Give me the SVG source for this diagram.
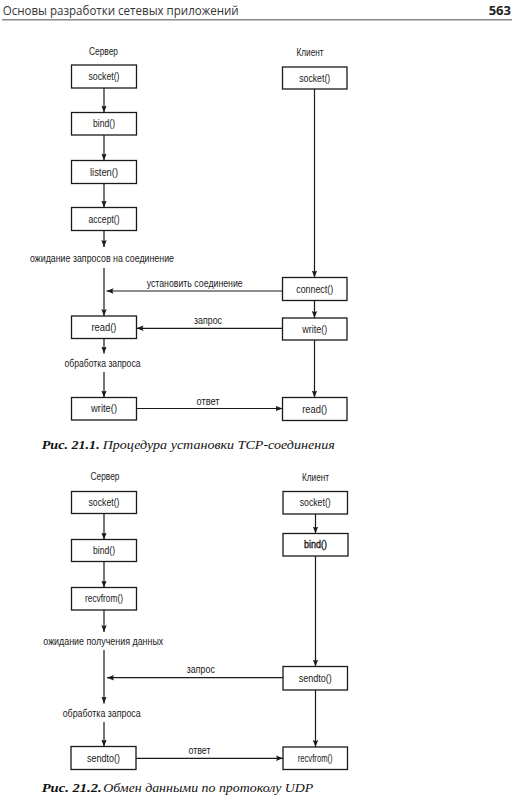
<svg xmlns="http://www.w3.org/2000/svg" width="525" height="801" viewBox="0 0 525 801">
<style>
.bg{fill:#fff}
.box{fill:#fff;stroke:#1a1a1a;stroke-width:1.3}
.t{font-family:"Liberation Sans",Arial,sans-serif;font-size:10px;fill:#1a1a1a;text-anchor:middle}
.c line{stroke:#1a1a1a;stroke-width:1.2;fill:none}
.arr{marker-end:url(#ah)}
.hdr{font-family:"Open Sans","Noto Sans",sans-serif;font-size:13px;fill:#333}
.pg{font-family:"Open Sans","Noto Sans",sans-serif;font-size:13px;font-weight:bold;fill:#222;text-anchor:end}
.capb{font-family:"Liberation Serif","Times New Roman",serif;font-size:12.5px;font-weight:bold;font-style:italic;fill:#111}
.capi{font-family:"Liberation Serif","Times New Roman",serif;font-size:12.5px;font-style:italic;fill:#111}
</style>
<defs>
<marker id="ah" markerUnits="userSpaceOnUse" markerWidth="8" markerHeight="6" refX="7" refY="3" orient="auto">
<path d="M0,0.3 L7,3 L0,5.7 L1.2,3 Z" fill="#1a1a1a"/>
</marker>
</defs>
<rect class="bg" x="0" y="0" width="525" height="801"/>

<g id="header">
<text class="hdr" x="2.7" y="15" textLength="236" lengthAdjust="spacingAndGlyphs">Основы разработки сетевых приложений</text>
<text class="pg" x="511" y="15">563</text>
<line x1="2" y1="19.8" x2="512" y2="19.8" stroke="#8a8a8a" stroke-width="1.5"/>
</g>

<!-- ===== Figure 21.1 ===== -->
<g id="fig1-labels">
<text class="t" x="103.5" y="54.5" textLength="29" lengthAdjust="spacingAndGlyphs">Сервер</text>
<text class="t" x="310" y="55.8" textLength="27" lengthAdjust="spacingAndGlyphs">Клиент</text>
<text class="t" x="102" y="261.8" textLength="144" lengthAdjust="spacingAndGlyphs">ожидание запросов на соединение</text>
<text class="t" x="194.7" y="286.8" textLength="96" lengthAdjust="spacingAndGlyphs">установить соединение</text>
<text class="t" x="208" y="324.2" textLength="28" lengthAdjust="spacingAndGlyphs">запрос</text>
<text class="t" x="102.5" y="366.8" textLength="76" lengthAdjust="spacingAndGlyphs">обработка запроса</text>
<text class="t" x="208" y="404.5" textLength="23" lengthAdjust="spacingAndGlyphs">ответ</text>
</g>

<g id="f1-s-socket"><rect class="box" x="71.5" y="65" width="65" height="23"/><text class="t" x="104" y="80" textLength="31" lengthAdjust="spacingAndGlyphs">socket()</text></g>
<g id="f1-s-bind"><rect class="box" x="71.5" y="112.5" width="65" height="22.5"/><text class="t" x="104" y="127.3" textLength="22" lengthAdjust="spacingAndGlyphs">bind()</text></g>
<g id="f1-s-listen"><rect class="box" x="71.5" y="160.5" width="65" height="23"/><text class="t" x="104" y="175.5" textLength="28" lengthAdjust="spacingAndGlyphs">listen()</text></g>
<g id="f1-s-accept"><rect class="box" x="71.5" y="207.5" width="65" height="23"/><text class="t" x="104" y="222.5" textLength="31" lengthAdjust="spacingAndGlyphs">accept()</text></g>
<g id="f1-s-read"><rect class="box" x="71.5" y="316" width="65" height="22.5"/><text class="t" x="104" y="330.8" textLength="25" lengthAdjust="spacingAndGlyphs">read()</text></g>
<g id="f1-s-write"><rect class="box" x="71.5" y="397.5" width="65" height="22.5"/><text class="t" x="104" y="412.3" textLength="26" lengthAdjust="spacingAndGlyphs">write()</text></g>

<g id="f1-c-socket"><rect class="box" x="282.5" y="67" width="64.5" height="22"/><text class="t" x="314.7" y="81.5" textLength="31" lengthAdjust="spacingAndGlyphs">socket()</text></g>
<g id="f1-c-connect"><rect class="box" x="282.5" y="277.5" width="64.5" height="23"/><text class="t" x="314.7" y="292.5" textLength="37" lengthAdjust="spacingAndGlyphs">connect()</text></g>
<g id="f1-c-write"><rect class="box" x="282.5" y="318" width="64.5" height="22"/><text class="t" x="314.7" y="332.5" textLength="25" lengthAdjust="spacingAndGlyphs">write()</text></g>
<g id="f1-c-read"><rect class="box" x="282.5" y="397.5" width="64.5" height="23"/><text class="t" x="314.7" y="412.5" textLength="25" lengthAdjust="spacingAndGlyphs">read()</text></g>

<g id="fig1-connectors" class="c">
<line class="arr" x1="104" y1="88" x2="104" y2="112.5"/>
<line class="arr" x1="104" y1="135" x2="104" y2="160.5"/>
<line class="arr" x1="104" y1="183.5" x2="104" y2="207.5"/>
<line class="arr" x1="104" y1="230.5" x2="104" y2="247"/>
<line class="arr" x1="104" y1="268" x2="104" y2="316"/>
<line class="arr" x1="104" y1="338.5" x2="104" y2="353.5"/>
<line class="arr" x1="104" y1="372" x2="104" y2="397.5"/>
<line class="arr" x1="314.5" y1="89" x2="314.5" y2="277.5"/>
<line class="arr" x1="314.5" y1="300.5" x2="314.5" y2="318"/>
<line class="arr" x1="314.5" y1="340" x2="314.5" y2="397.5"/>
<line class="arr" x1="282.5" y1="291" x2="106.5" y2="291"/>
<line class="arr" x1="282.5" y1="328.3" x2="136.5" y2="328.3"/>
<line class="arr" x1="136.5" y1="408.5" x2="282.5" y2="408.5"/>
</g>

<g id="caption1">
<text class="capb" x="41.7" y="448.5" textLength="58" lengthAdjust="spacingAndGlyphs">Рис. 21.1.</text>
<text class="capi" x="102.7" y="448.5" textLength="232" lengthAdjust="spacingAndGlyphs">Процедура установки TCP-соединения</text>
</g>

<!-- ===== Figure 21.2 ===== -->
<g id="fig2-labels">
<text class="t" x="105" y="480.2" textLength="29" lengthAdjust="spacingAndGlyphs">Сервер</text>
<text class="t" x="315.5" y="480.8" textLength="27" lengthAdjust="spacingAndGlyphs">Клиент</text>
<text class="t" x="103.3" y="645.2" textLength="120" lengthAdjust="spacingAndGlyphs">ожидание получения данных</text>
<text class="t" x="200.8" y="672.8" textLength="28" lengthAdjust="spacingAndGlyphs">запрос</text>
<text class="t" x="101.7" y="716.8" textLength="78" lengthAdjust="spacingAndGlyphs">обработка запроса</text>
<text class="t" x="199.5" y="754.2" textLength="22" lengthAdjust="spacingAndGlyphs">ответ</text>
</g>

<g id="f2-s-socket"><rect class="box" x="71.5" y="491.5" width="65" height="22"/><text class="t" x="104" y="506" textLength="31" lengthAdjust="spacingAndGlyphs">socket()</text></g>
<g id="f2-s-bind"><rect class="box" x="71.5" y="539.5" width="65" height="22"/><text class="t" x="104" y="554" textLength="22" lengthAdjust="spacingAndGlyphs">bind()</text></g>
<g id="f2-s-recvfrom"><rect class="box" x="71.5" y="587.5" width="65" height="22.5"/><text class="t" x="104" y="602.3" textLength="38" lengthAdjust="spacingAndGlyphs">recvfrom()</text></g>
<g id="f2-s-sendto"><rect class="box" x="71" y="746.5" width="65" height="23"/><text class="t" x="103.5" y="761.5" textLength="33" lengthAdjust="spacingAndGlyphs">sendto()</text></g>

<g id="f2-c-socket"><rect class="box" x="283" y="491.5" width="64.5" height="22.5"/><text class="t" x="315.2" y="506.3" textLength="31" lengthAdjust="spacingAndGlyphs">socket()</text></g>
<g id="f2-c-bind"><rect class="box" x="283" y="533.5" width="65" height="22.5"/><text class="t" x="315.5" y="548.3" textLength="23" lengthAdjust="spacingAndGlyphs" stroke="#1a1a1a" stroke-width="0.35">bind()</text></g>
<g id="f2-c-sendto"><rect class="box" x="283" y="666.5" width="64.5" height="23.5"/><text class="t" x="315.2" y="681.7" textLength="33" lengthAdjust="spacingAndGlyphs">sendto()</text></g>
<g id="f2-c-recvfrom"><rect class="box" x="283" y="747" width="64.5" height="22.5"/><text class="t" x="315.2" y="761.8" textLength="35" lengthAdjust="spacingAndGlyphs">recvfrom()</text></g>

<g id="fig2-connectors" class="c">
<line class="arr" x1="104" y1="513.5" x2="104" y2="539.5"/>
<line class="arr" x1="104" y1="561.5" x2="104" y2="587.5"/>
<line class="arr" x1="104" y1="610" x2="104" y2="632"/>
<line class="arr" x1="104" y1="650" x2="104" y2="703.5"/>
<line class="arr" x1="104" y1="722" x2="104" y2="746.5"/>
<line class="arr" x1="315.5" y1="514" x2="315.5" y2="533.5"/>
<line class="arr" x1="315.5" y1="556" x2="315.5" y2="666.5"/>
<line class="arr" x1="315.5" y1="690" x2="315.5" y2="747"/>
<line class="arr" x1="283" y1="677.7" x2="107" y2="677.7"/>
<line class="arr" x1="136" y1="758.3" x2="283" y2="758.3"/>
</g>

<g id="caption2">
<text class="capb" x="41.7" y="792" textLength="60" lengthAdjust="spacingAndGlyphs">Рис. 21.2.</text>
<text class="capi" x="103.3" y="792" textLength="210" lengthAdjust="spacingAndGlyphs">Обмен данными по протоколу UDP</text>
</g>
</svg>
